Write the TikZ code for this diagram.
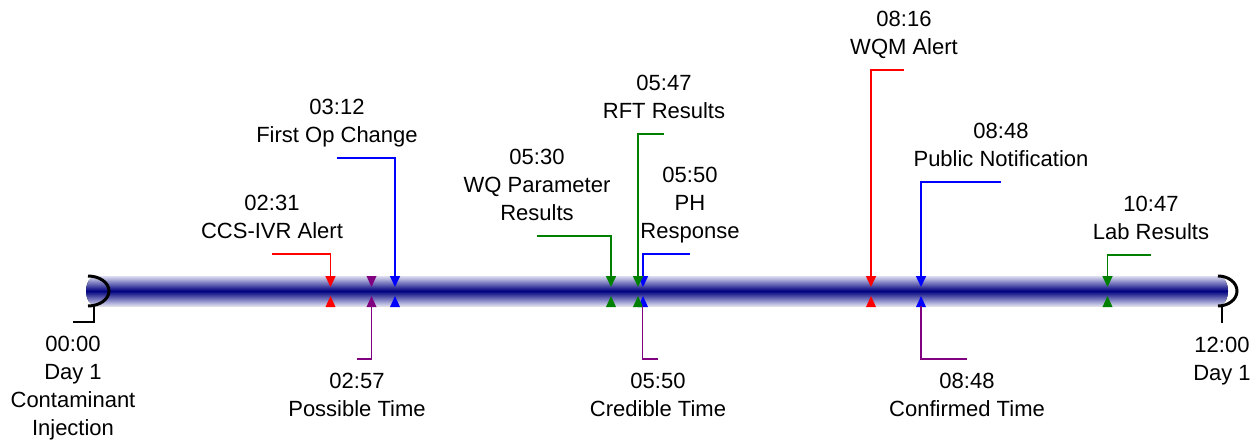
\documentclass[tikz,border=0pt]{standalone}
\usepackage{fontspec}
\setmainfont{Liberation Sans}
\usetikzlibrary{arrows.meta}
\definecolor{evred}{RGB}{255,0,0}
\definecolor{evblue}{RGB}{0,0,255}
\definecolor{evgreen}{RGB}{0,128,0}
\definecolor{evpurple}{RGB}{128,0,128}
\definecolor{barnavy}{RGB}{0,0,128}
\definecolor{baredge}{RGB}{222,222,242}
% up-pointing marker below the bar: colour, x position
\newcommand\tickup[2]{\fill[#1] (#2-5,307) -- (#2+5,307) -- (#2,296) -- cycle;}
% down-pointing marker on top of the bar: colour, x position
\newcommand\tickdown[2]{\fill[#1] (#2-5,276) -- (#2+5,276) -- (#2,287) -- cycle;}
\begin{document}
\begin{tikzpicture}[x=1pt,y=-1pt,
  lbl/.style={inner sep=0pt, align=center, font=\fontsize{22}{28}\selectfont},
  toplbl/.style={lbl, above=6.6pt},
  botlbl/.style={lbl, below=9.4pt},
  lead/.style={line width=1.6pt},
  pointer/.style={lead, -{Triangle[width=10pt,length=11pt]}},
  leg/.style={line width=1.5pt, black},
  endcap/.style={line width=3pt, black},
]
\useasboundingbox (0,0) rectangle (1260,439);

% timeline bar
\fill[top color=baredge, bottom color=baredge, middle color=barnavy]
  (96,276) -- (1218,276) arc[start angle=-90,end angle=90,x radius=10,y radius=15]
  -- (96,306) arc[start angle=90,end angle=270,x radius=10,y radius=15] -- cycle;
\draw[endcap] (88,276) arc[start angle=-90,end angle=90,x radius=21,y radius=15];
\draw[endcap] (1218,276) arc[start angle=-90,end angle=90,x radius=19,y radius=15];

% start and end of the period
\coordinate (s0) at (94,305);
\coordinate (s1) at (73,322);
\draw[leg] (s0) |- (s1);
\node[botlbl] (start) at (s1) {\strut 00:00\\Day 1\\Contaminant\\Injection\strut};
\coordinate (f0) at (1222,305);
\coordinate (f1) at (1222,323);
\draw[leg] (f0) -- (f1);
\node[botlbl] (finish) at (f1) {\strut 12:00\\Day 1\strut};

% events above the bar
\coordinate (e1) at (272,254);  \coordinate (t1) at (330.5,287);
\coordinate (e2) at (337,158);  \coordinate (t2) at (395,287);
\coordinate (e3) at (537,236);  \coordinate (t3) at (611,287);
\coordinate (e4) at (664,134);  \coordinate (t4) at (638,287);
\coordinate (e5) at (690,254);  \coordinate (t5) at (643,287);
\coordinate (e6) at (904,70);   \coordinate (t6) at (871,287);
\coordinate (e7) at (1001,182); \coordinate (t7) at (921,287);
\coordinate (e8) at (1151,255); \coordinate (t8) at (1107.5,287);

\node[toplbl] (ccs) at (e1) {\strut 02:31\\CCS-IVR Alert\strut};
\node[toplbl] (fop) at (e2) {\strut 03:12\\First Op Change\strut};
\node[toplbl] (wqp) at (e3) {\strut 05:30\\WQ Parameter\\Results\strut};
\node[toplbl] (rft) at (e4) {\strut 05:47\\RFT Results\strut};
\node[toplbl] (phr) at (e5) {\strut 05:50\\PH\\Response\strut};
\node[toplbl] (wqm) at (e6) {\strut 08:16\\WQM Alert\strut};
\node[toplbl] (pub) at (e7) {\strut 08:48\\Public Notification\strut};
\node[toplbl] (lab) at (e8) {\strut 10:47\\Lab Results\strut};

\draw[pointer, evred] (e1) -| (t1);
\draw[pointer, evblue] (e2) -| (t2);
\draw[pointer, evgreen] (e3) -| (t3);
\draw[pointer, evblue] (e5) -| (t5);
\draw[pointer, evgreen] (e4) -| (t4);
\draw[pointer, evred] (e6) -| (t6);
\draw[pointer, evblue] (e7) -| (t7);
\draw[pointer, evgreen] (e8) -| (t8);
\tickdown{evpurple}{371.5}

% mirrored markers below the bar
\tickup{evred}{330.5}
\tickup{evpurple}{371.5}
\tickup{evblue}{395}
\tickup{evgreen}{611}
\tickup{evblue}{643}
\tickup{evgreen}{638}
\tickup{evred}{871}
\tickup{evblue}{921}
\tickup{evgreen}{1107.5}

% time estimates below the bar
\coordinate (b1) at (371.5,306); \coordinate (p1) at (357,359);
\coordinate (b2) at (642.5,306); \coordinate (p2) at (658,359);
\coordinate (b3) at (921,306);   \coordinate (p3) at (967,359);
\draw[lead, evpurple] (b1) |- (p1);
\draw[lead, evpurple] (b2) |- (p2);
\draw[lead, evpurple] (b3) |- (p3);
\node[botlbl] (possible) at (p1) {\strut 02:57\\Possible Time\strut};
\node[botlbl] (credible) at (p2) {\strut 05:50\\Credible Time\strut};
\node[botlbl] (confirmed) at (p3) {\strut 08:48\\Confirmed Time\strut};
\end{tikzpicture}
\end{document}
